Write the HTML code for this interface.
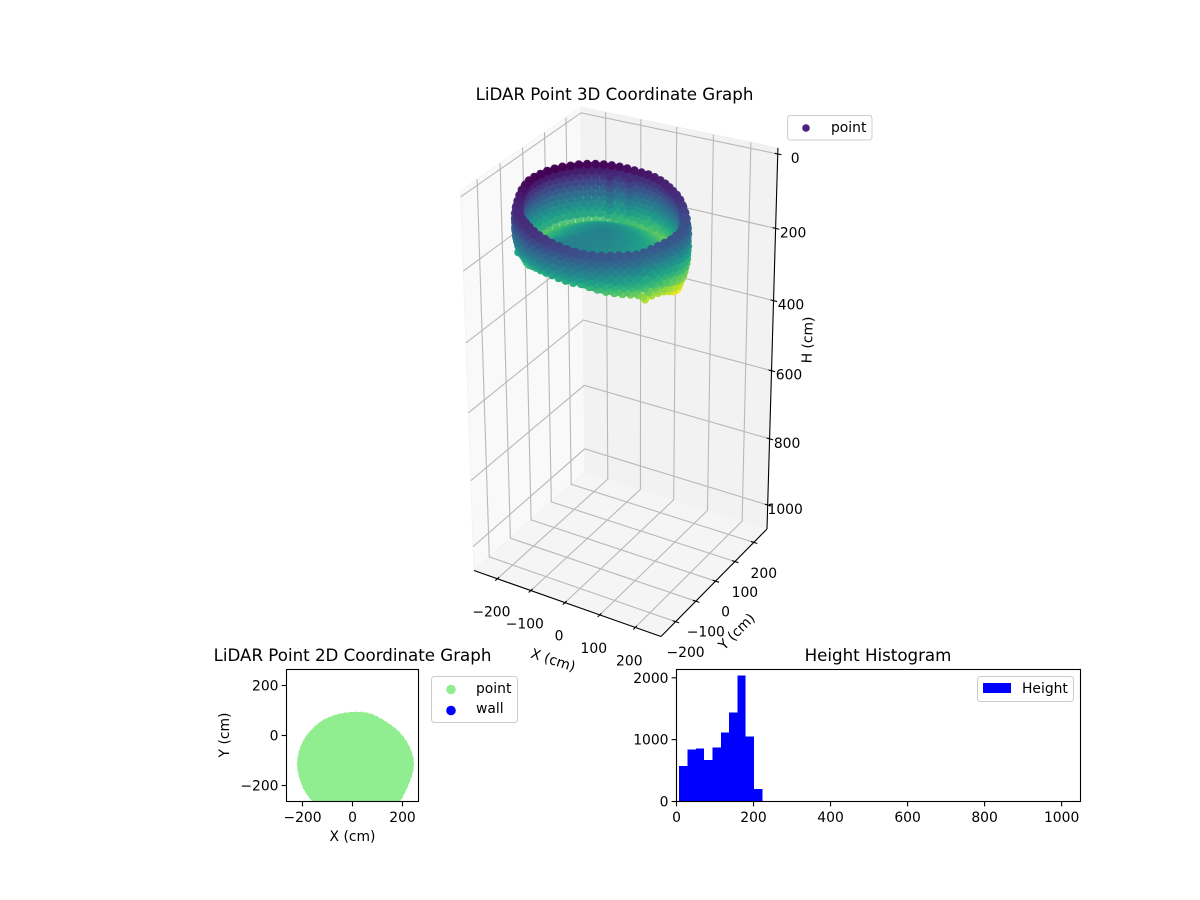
<!DOCTYPE html>
<html>
<head>
<meta charset="utf-8">
<title>LiDAR Point Graphs</title>
<style>
html,body{margin:0;padding:0;background:#fff;width:1200px;height:900px;overflow:hidden}
svg{display:block}
text{font-family:"DejaVu Sans","Liberation Sans",sans-serif;fill:#000}
.t{font-size:13.89px}
.title{font-size:16.67px;text-anchor:middle}
</style>
</head>
<body>
<svg id="fig" xmlns="http://www.w3.org/2000/svg" width="1200" height="900" viewBox="0 0 1200 900">
  <defs><clipPath id="clip2d"><rect x="286.5" y="669.5" width="132" height="132"/></clipPath></defs>
  <g id="axes3d"></g>
  <g id="axes2d"></g>
  <g id="axesHist"></g>
  <text class="title" x="614.5" y="100">LiDAR Point 3D Coordinate Graph</text>
  <text class="title" x="352.5" y="661">LiDAR Point 2D Coordinate Graph</text>
  <text class="title" x="878" y="661">Height Histogram</text>

  <g>
    <rect x="787.5" y="115.5" width="84.5" height="24.5" rx="3" fill="#fff" fill-opacity="0.8" stroke="#ccc"/>
    <circle cx="806" cy="128" r="3.8" fill="#482475"/>
    <text class="t" x="831" y="132">point</text>
  </g>
  <g>
    <rect x="431.5" y="676.5" width="86" height="46" rx="3" fill="#fff" fill-opacity="0.8" stroke="#ccc"/>
    <circle cx="451" cy="689.5" r="4.8" fill="#90ee90"/>
    <text class="t" x="476" y="693">point</text>
    <circle cx="451" cy="710.5" r="4.8" fill="#0000ff"/>
    <text class="t" x="476" y="713">wall</text>
  </g>
  <g>
    <rect x="977.5" y="676.5" width="96" height="25" rx="3" fill="#fff" fill-opacity="0.8" stroke="#ccc"/>
    <rect x="983" y="683" width="28" height="10" fill="#0000ff"/>
    <text class="t" x="1022" y="693">Height</text>
  </g>
</svg>
<script>
// ---------- chart data ----------
const ringAngles = [0,6,12,18,24,30,36,42,48,54,60,66,72,78,84,90,96,102,108,114,120,126,132,138,144,150,156,162,168,174,180,186,192,198,204,210,216,222,228,234,240,246,252,258,264,270,276,282,288,294,300,306,312,318,324,330,336,342,348,354];
const ringRadius = [231,231,228,225,222,219,216,213,210,208,208,209,210,210,210,209,209,210,212,214,217,220,222,224,226,229,231,233,234,235,236,235,233,232,232,231,230,230,229,228,228,228,228,228,228,228,228,228,228,228,228,228,228,229,229,226,225,226,228,230];
const rimHeight = [58,58,57,54,49,44,38,32,28,26,24,22,20,18,16,15,13,11,9,7,6,5,4,3,3,2,2,2,3,3,4,8,12,17,21,24,26,27,28,28,29,32,35,38,42,45,49,52,55,57,58,59,60,62,64,65,63,61,60,59];
const outerBottomHeight = [212,217,220,221,221,219,216,214,210,205,200,190,180,170,160,155,150,145,140,135,130,130,130,130,130,130,132,134,136,138,142,146,148,150,150,150,150,148,146,140,136,135,134,134,136,138,140,140,146,152,158,163,168,172,178,196,192,192,195,203];
const innerBottomHeight = [174,176,177,177,178,178,179,179,179,178,178,177,176,175,174,173,172,171,170,170,169,169,169,169,169,169,170,170,171,171,172,170,166,160,150,140,130,120,112,104,98,95,93,92,94,96,99,102,108,115,120,126,132,138,145,150,155,160,168,172];
const floorCenterHeight = 100;

const outerRadiusFrac = [0.97,0.985,0.995,1,1,1,1,0.99,0.975,0.955,0.93,0.9];
const outerDepthFrac = [0,0.05,0.12,0.2,0.3,0.4,0.5,0.6,0.7,0.8,0.9,1];
const innerRadiusFrac = [0.95,0.95,0.955,0.955,0.96,0.96,0.965,0.965,0.97,0.97,0.97,0.97];
const innerDepthFrac = [0,0.09,0.18,0.27,0.36,0.45,0.54,0.63,0.72,0.81,0.9,1];
const floorRadiusFrac = [0.95,0.88,0.81,0.74,0.67,0.6,0.53,0.46,0.39,0.32,0.25,0.18,0.11,0.04];
const floorHeightFrac = [0.95,0.87,0.78,0.68,0.59,0.5,0.41,0.33,0.25,0.18,0.12,0.07,0.03,0];
const postAngles = [115,98];
const postRadiusFrac = [0.8,0.8];
const postHeights = [30,45,60,75,90,105,120];
const ringCenterX = 14;
const ringCenterY = -115;
const ring3dCenterX = 22;
const ring3dCenterY = -115;
const ring3dScale = 0.885;
const disc2dRadiusFrac = [0.97,0.8,0.6,0.4,0.2];

const xTicks3d = [-200,-100,0,100,200];
const yTicks3d = [-200,-100,0,100,200];
const hTicks3d = [0,200,400,600,800,1000];
const ticks2d = [-200,0,200];
const histEdges = [6.9,28.5,50.1,71.7,93.3,114.9,136.5,158.1,179.7,201.3,222.9];
const histCounts = [570,844,860,667,876,1118,1441,2038,1054,199];
const histXTicks = [0,200,400,600,800,1000];
const histYTicks = [0,1000,2000];

const viridisStops = [[68,1,84],[72,40,120],[62,74,137],[49,104,142],[38,130,142],[31,158,137],[53,183,121],[109,205,89],[180,222,44],[253,231,37]];

// ---------- helpers ----------
const NS = 'http://www.w3.org/2000/svg';
function make(tag, attrs, parent, txt) {
  const n = document.createElementNS(NS, tag);
  for (const k in attrs) n.setAttribute(k, attrs[k]);
  if (txt !== undefined) n.textContent = txt;
  parent.appendChild(n);
  return n;
}
function minus(v) { return String(v).replace('-', '\u2212'); }
function viridis(t) {
  t = Math.max(0, Math.min(1, t)) * (viridisStops.length - 1);
  const i = Math.min(viridisStops.length - 2, Math.floor(t)), f = t - i;
  const a = viridisStops[i], b = viridisStops[i + 1];
  return 'rgb(' + [0,1,2].map(k => Math.round(a[k] + (b[k] - a[k]) * f)).join(',') + ')';
}
let el;

// ---------- 3D axes ----------
const g3 = document.getElementById('axes3d');
const xMin3 = -271, xMax3 = 271, yMin3 = -271, yMax3 = 271, hBottom = 1074, hTop = -16;
const colorMin = 2, colorMax = 220;
const camO = [585,472], camA = [767,529], camB = [474,570.5], camC = [581,107];
const persX = -0.05, persY = -0.055, persH = -0.073;
function proj(u, v, c) {
  const w = 1 + persX * u + persY * v + persH * c;
  const px = camO[0] + (camA[0] * (1 + persX) - camO[0]) * u + (camB[0] * (1 + persY) - camO[0]) * v + (camC[0] * (1 + persH) - camO[0]) * c;
  const py = camO[1] + (camA[1] * (1 + persX) - camO[1]) * u + (camB[1] * (1 + persY) - camO[1]) * v + (camC[1] * (1 + persH) - camO[1]) * c;
  return [px / w, py / w, w];
}
function uOf(x) { return (x - xMin3) / (xMax3 - xMin3); }
function vOf(y) { return (yMax3 - y) / (yMax3 - yMin3); }
function cOf(h) { return (hBottom - h) / (hBottom - hTop); }
function poly(uvcs) { return uvcs.map(p => { const q = proj(p[0], p[1], p[2]); return q[0].toFixed(1) + ',' + q[1].toFixed(1); }).join(' '); }

el = make('polygon', {points: poly([[0,0,0],[0,1,0],[0,1,1],[0,0,1]]), fill: '#f9f9f9', stroke: '#f4f4f4'}, g3);


el = make('polygon', {points: poly([[0,0,0],[1,0,0],[1,0,1],[0,0,1]]), fill: '#f2f2f2', stroke: '#f0f0f0'}, g3);


el = make('polygon', {points: poly([[0,0,0],[1,0,0],[1,1,0],[0,1,0]]), fill: '#f5f5f5', stroke: '#f2f2f2'}, g3);



function seg(a, b, stroke, width, parent) {
  const p = proj(a[0], a[1], a[2]), q = proj(b[0], b[1], b[2]);
  return make('line', {x1: p[0].toFixed(2), y1: p[1].toFixed(2), x2: q[0].toFixed(2), y2: q[1].toFixed(2), stroke: stroke, 'stroke-width': width}, parent);
}
const gridColor = '#b8b8b8';
xTicks3d.forEach(x => {
  const u = uOf(x);
  el = make('polyline', {points: poly([[u,1,0],[u,0,0],[u,0,1]]), fill: 'none', stroke: gridColor, 'stroke-width': 1.1}, g3);
  
  
});
yTicks3d.forEach(y => {
  const v = vOf(y);
  el = make('polyline', {points: poly([[1,v,0],[0,v,0],[0,v,1]]), fill: 'none', stroke: gridColor, 'stroke-width': 1.1}, g3);
  
  
});
hTicks3d.forEach(h => {
  const c = cOf(h);
  el = make('polyline', {points: poly([[0,1,c],[0,0,c],[1,0,c]]), fill: 'none', stroke: gridColor, 'stroke-width': 1.1}, g3);
  
  
});

el = seg([0,1,0],[1,1,0],'#000',1.1,g3);


el = seg([1,1,0],[1,0,0],'#000',1.1,g3);


el = seg([1,0,0],[1,0,1],'#000',1.1,g3);



xTicks3d.forEach(x => {
  const u = uOf(x);
  el = seg([u,0.985,0],[u,1.018,0],'#000',1.1,g3);
  
  
  const p = proj(u,1,0);
  el = make('text', {class:'t', x:(p[0]-6).toFixed(1), y:(p[1]+33).toFixed(1), dy:'.36em', 'text-anchor':'middle'}, g3, minus(x));
  
  
});
yTicks3d.forEach(y => {
  const v = vOf(y);
  el = seg([0.985,v,0],[1.018,v,0],'#000',1.1,g3);
  
  
  const p = proj(1,v,0);
  el = make('text', {class:'t', x:(p[0]+10).toFixed(1), y:(p[1]+30.5).toFixed(1), dy:'.36em', 'text-anchor':'middle'}, g3, minus(y));
  
  
});
hTicks3d.forEach(h => {
  const c = cOf(h);
  el = seg([0.985,0,c],[1.018,0,c],'#000',1.1,g3);
  
  
  const p = proj(1,0,c);
  el = make('text', {class:'t', x:(p[0]+17.5).toFixed(1), y:(p[1]+4).toFixed(1), dy:'.36em', 'text-anchor':'middle'}, g3, minus(h));
  
  
});

el = make('text', {class:'t', x:553, y:660.5, dy:'.3em', 'text-anchor':'middle', transform:'rotate(18 553 660.5)'}, g3, 'X (cm)');


el = make('text', {class:'t', x:737, y:632, dy:'.3em', 'text-anchor':'middle', transform:'rotate(-45 737 632)'}, g3, 'Y (cm)');


el = make('text', {class:'t', x:808, y:340, dy:'.3em', 'text-anchor':'middle', transform:'rotate(-88 808 340)'}, g3, 'H (cm)');



// build scatter from the ring arrays
const pts = [];
function addPoint(deg, R, h) {
  const a = deg * Math.PI / 180;
  const q = proj(uOf(ring3dCenterX + R * ring3dScale * Math.cos(a)), vOf(ring3dCenterY + R * ring3dScale * Math.sin(a)), cOf(h));
  pts.push({x:q[0], y:q[1], w:q[2], h:h});
}
ringAngles.forEach((deg, i) => {
  const R = ringRadius[i];
  outerRadiusFrac.forEach((f, k) => {
    addPoint(deg + (k % 2) * 3, R * f, rimHeight[i] + (outerBottomHeight[i] - rimHeight[i]) * outerDepthFrac[k]);
  });
  innerRadiusFrac.forEach((f, k) => {
    addPoint(deg + (k % 2) * 3, R * f, rimHeight[i] + (innerBottomHeight[i] - rimHeight[i]) * innerDepthFrac[k]);
  });
  floorRadiusFrac.forEach((f, k) => {
    addPoint(deg + (k % 2) * 3, R * f, floorCenterHeight + (innerBottomHeight[i] - floorCenterHeight) * floorHeightFrac[k]);
  });
});
postAngles.forEach((deg, i) => {
  postHeights.forEach(h => {
    addPoint(deg, 232 * postRadiusFrac[i], h);
  });
});
const wMax = Math.max.apply(null, pts.map(p => p.w)), wMin = Math.min.apply(null, pts.map(p => p.w));
pts.sort((a, b) => b.w - a.w);
const gScatter = make('g', {}, g3);


pts.forEach(p => {
  el = make('circle', {cx:p.x.toFixed(1), cy:p.y.toFixed(1), r:4.1, fill:viridis((p.h - colorMin) / (colorMax - colorMin)), 'fill-opacity':(0.9 + 0.1 * (wMax - p.w) / (wMax - wMin)).toFixed(2)}, gScatter);
  
  
});

// ---------- 2D axes ----------
const g2 = document.getElementById('axes2d');
const left2 = 286.5, right2 = 418.5, top2 = 669.5, bottom2 = 801.5, lim2 = 264;
function sx2(x) { return left2 + (x + lim2) / (2 * lim2) * (right2 - left2); }
function sy2(y) { return bottom2 - (y + lim2) / (2 * lim2) * (bottom2 - top2); }
const gDisc = make('g', {'clip-path':'url(#clip2d)'}, g2);


el = make('polygon', {fill:'#90ee90', points: ringAngles.map((deg, i) => {
  const a = deg * Math.PI / 180, R = ringRadius[i];
  return sx2(ringCenterX + R * Math.cos(a)).toFixed(1) + ',' + sy2(ringCenterY + R * Math.sin(a)).toFixed(1);
}).join(' ')}, gDisc);


ringAngles.forEach((deg, i) => {
  const a = deg * Math.PI / 180;
  disc2dRadiusFrac.forEach(f => {
    const R = ringRadius[i] * f;
    el = make('circle', {cx:sx2(ringCenterX + R * Math.cos(a)).toFixed(1), cy:sy2(ringCenterY + R * Math.sin(a)).toFixed(1), r:2, fill:'#90ee90'}, gDisc);
    
    
  });
});
el = make('rect', {x:left2, y:top2, width:right2-left2, height:bottom2-top2, fill:'none', stroke:'#000', 'stroke-width':1.1}, g2);


ticks2d.forEach(t => {
  el = make('line', {x1:sx2(t), x2:sx2(t), y1:bottom2, y2:bottom2+4.9, stroke:'#000', 'stroke-width':1.1}, g2);
  
  
  el = make('text', {class:'t', x:sx2(t), y:817, dy:'.36em', 'text-anchor':'middle'}, g2, minus(t));
  
  
  el = make('line', {x1:left2-4.9, x2:left2, y1:sy2(t), y2:sy2(t), stroke:'#000', 'stroke-width':1.1}, g2);
  
  
  el = make('text', {class:'t', x:left2-8, y:sy2(t), dy:'.36em', 'text-anchor':'end'}, g2, minus(t));
  
  
});
el = make('text', {class:'t', x:352.5, y:837, dy:'.3em', 'text-anchor':'middle'}, g2, 'X (cm)');


el = make('text', {class:'t', x:225, y:735, dy:'.3em', 'text-anchor':'middle', transform:'rotate(-90 225 735)'}, g2, 'Y (cm)');



// ---------- Histogram ----------
const gh = document.getElementById('axesHist');
const leftH = 676.5, rightH = 1080.5, topH = 669.5, bottomH = 801.5, xMaxH = 1049, yMaxH = 2134;
function sxH(x) { return leftH + x / xMaxH * (rightH - leftH); }
function syH(y) { return bottomH - y / yMaxH * (bottomH - topH); }
histCounts.forEach((c, i) => {
  el = make('rect', {x:sxH(histEdges[i]).toFixed(2), y:syH(c).toFixed(2), width:(sxH(histEdges[i+1])-sxH(histEdges[i])).toFixed(2), height:(bottomH-syH(c)).toFixed(2), fill:'#0000ff', 'shape-rendering':'crispEdges'}, gh);
  
  
});
el = make('rect', {x:leftH, y:topH, width:rightH-leftH, height:bottomH-topH, fill:'none', stroke:'#000', 'stroke-width':1.1}, gh);


histXTicks.forEach(t => {
  el = make('line', {x1:sxH(t), x2:sxH(t), y1:bottomH, y2:bottomH+4.9, stroke:'#000', 'stroke-width':1.1}, gh);
  
  
  el = make('text', {class:'t', x:sxH(t), y:817, dy:'.36em', 'text-anchor':'middle'}, gh, String(t));
  
  
});
histYTicks.forEach(t => {
  el = make('line', {x1:leftH-4.9, x2:leftH, y1:syH(t), y2:syH(t), stroke:'#000', 'stroke-width':1.1}, gh);
  
  
  el = make('text', {class:'t', x:leftH-8, y:syH(t), dy:'.36em', 'text-anchor':'end'}, gh, String(t));
  
  
});
</script>
</body>
</html>
